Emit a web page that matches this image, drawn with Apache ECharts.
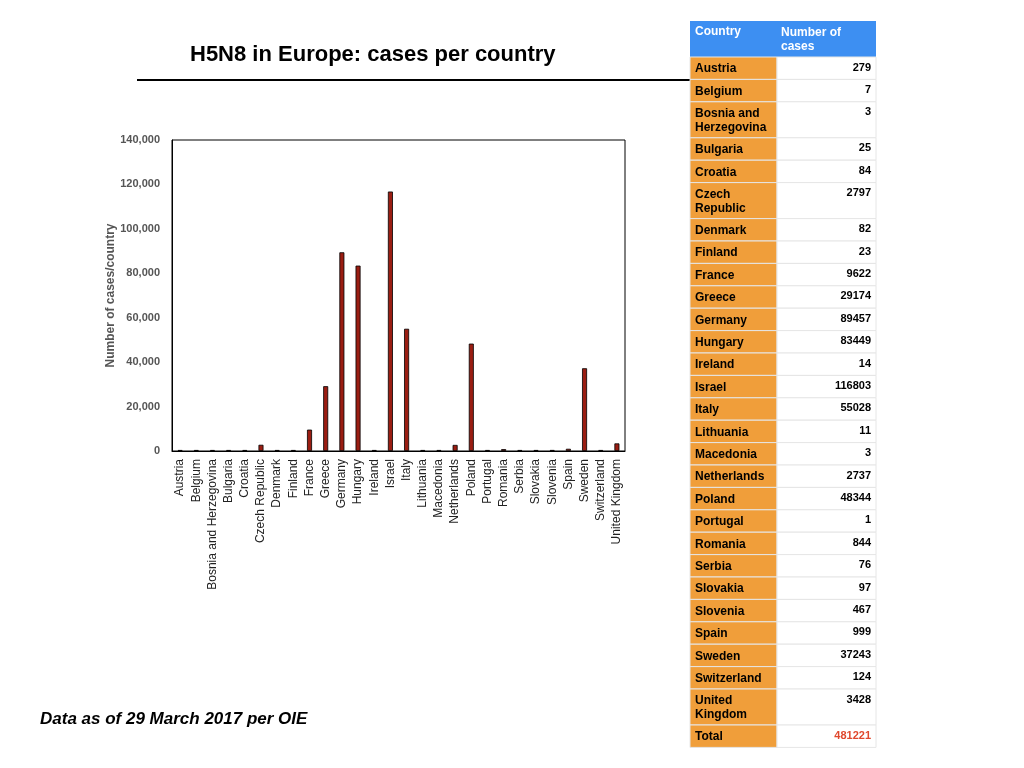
<!DOCTYPE html>
<html><head><meta charset="utf-8">
<script src="https://cdn.jsdelivr.net/npm/echarts@6/dist/echarts.min.js"></script>
<style>html,body{margin:0;padding:0;background:#fff}#c{width:1024px;height:768px}</style>
</head><body><div id="c"></div>
<script>
const countries = ["Austria","Belgium","Bosnia and Herzegovina","Bulgaria","Croatia","Czech Republic","Denmark","Finland","France","Greece","Germany","Hungary","Ireland","Israel","Italy","Lithuania","Macedonia","Netherlands","Poland","Portugal","Romania","Serbia","Slovakia","Slovenia","Spain","Sweden","Switzerland","United Kingdom"];
const tableNames = ["Austria","Belgium","Bosnia and\nHerzegovina","Bulgaria","Croatia","Czech\nRepublic","Denmark","Finland","France","Greece","Germany","Hungary","Ireland","Israel","Italy","Lithuania","Macedonia","Netherlands","Poland","Portugal","Romania","Serbia","Slovakia","Slovenia","Spain","Sweden","Switzerland","United\nKingdom"];
const cases = [279,7,3,25,84,2797,82,23,9622,29174,89457,83449,14,116803,55028,11,3,2737,48344,1,844,76,97,467,999,37243,124,3428];
const total = 481221;
const yTicks = [0,20000,40000,60000,80000,100000,120000,140000];

const F = '"Liberation Sans", Arial, sans-serif';
const g = [];
// title + rule + footnote
g.push({type:'text',left:190,top:44,style:{text:'H5N8 in Europe: cases per country',font:'bold 22px '+F,fill:'#000'}});
g.push({type:'line',shape:{x1:137,y1:80,x2:690,y2:80},style:{stroke:'#000',lineWidth:2}});
g.push({type:'text',left:40,top:711,style:{text:'Data as of 29 March 2017 per OIE',font:'italic bold 17px '+F,fill:'#000'}});
// table
const X0=690,X1=777,X2=876;
g.push({type:'rect',shape:{x:X0,y:21,width:X2-X0,height:36},style:{fill:'#3d8ff2'}});
g.push({type:'text',x:695,y:26,style:{text:'Country',font:'bold 12px '+F,fill:'#fff'}});
g.push({type:'text',x:781,y:26,style:{text:'Number of\ncases',font:'bold 12px '+F,fill:'#fff',lineHeight:14}});
let y=57;
const rows = tableNames.map((n,i)=>[n,String(cases[i]),'#000']).concat([['Total',String(total),'#e0482d']]);
rows.forEach(r=>{
  const h = r[0].includes('\n')?36:22.4;
  g.push({type:'rect',shape:{x:X0,y:y,width:X1-X0,height:h},style:{fill:'#f09e3a',stroke:'#e6e6e6',lineWidth:1}});
  g.push({type:'rect',shape:{x:X1,y:y,width:X2-X1,height:h},style:{fill:'#fff',stroke:'#e6e6e6',lineWidth:1}});
  g.push({type:'text',x:695,y:y+5,style:{text:r[0],font:'bold 12px '+F,fill:'#000',lineHeight:14}});
  g.push({type:'text',x:871,y:y+5,style:{text:r[1],font:'bold 11px '+F,fill:r[2],align:'right'}});
  y+=h;
});

const chart = echarts.init(document.getElementById('c'));
chart.setOption({
  animation:false,
  grid:{left:172,top:140,width:453,height:311,show:true,borderColor:'#000',borderWidth:1},
  xAxis:{type:'category',data:countries,axisTick:{show:false},axisLine:{lineStyle:{color:'#000'}},
    axisLabel:{rotate:90,interval:0,fontSize:12,color:'#222',fontFamily:F,margin:8}},
  yAxis:{type:'value',min:0,max:140000,interval:20000,splitLine:{show:false},
    axisLine:{show:true,lineStyle:{color:'#000'}},axisTick:{show:false},
    axisLabel:{fontSize:11,fontWeight:'bold',color:'#555',fontFamily:F,margin:12},
    name:'Number of cases/country',nameLocation:'middle',nameGap:55,
    nameTextStyle:{fontSize:12,fontWeight:'bold',color:'#555',fontFamily:F}},
  series:[{type:'bar',data:cases,barWidth:5,barMinHeight:1,
    itemStyle:{color:'#9a1d12',borderColor:'#000',borderWidth:0.8}}],
  graphic:g
});
</script></body></html>
